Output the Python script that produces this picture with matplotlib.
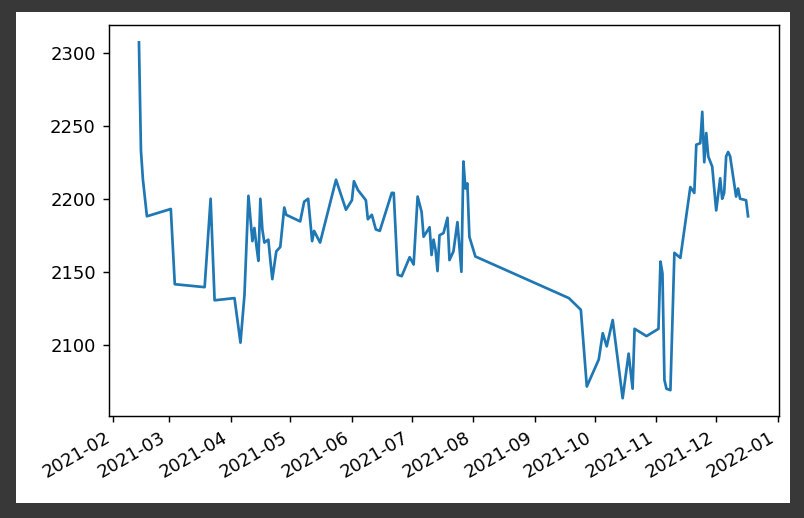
#!/usr/bin/env python3
"""
Daily price line, Feb-Dec 2021 (screenshot style with dark frame)
"""

import matplotlib
matplotlib.use('Agg')
import matplotlib.pyplot as plt
import matplotlib.dates as mdates
import pandas as pd

# values
dates = [
    '2021-02-14', '2021-02-15', '2021-02-16', '2021-02-18', '2021-03-02', '2021-03-04',
    '2021-03-19', '2021-03-22', '2021-03-24', '2021-04-03', '2021-04-06', '2021-04-08',
    '2021-04-10', '2021-04-12', '2021-04-13', '2021-04-14', '2021-04-15', '2021-04-16',
    '2021-04-17', '2021-04-18', '2021-04-20', '2021-04-21', '2021-04-22', '2021-04-24',
    '2021-04-26', '2021-04-28', '2021-04-29', '2021-05-06', '2021-05-08', '2021-05-10',
    '2021-05-12', '2021-05-13', '2021-05-16', '2021-05-24', '2021-05-29', '2021-06-01',
    '2021-06-02', '2021-06-04', '2021-06-08', '2021-06-09', '2021-06-11', '2021-06-13',
    '2021-06-15', '2021-06-21', '2021-06-22', '2021-06-24', '2021-06-26', '2021-06-30',
    '2021-07-02', '2021-07-04', '2021-07-06', '2021-07-07', '2021-07-10', '2021-07-11',
    '2021-07-12', '2021-07-13', '2021-07-14', '2021-07-15', '2021-07-17', '2021-07-19',
    '2021-07-20', '2021-07-22', '2021-07-24', '2021-07-26', '2021-07-27', '2021-07-28',
    '2021-07-29', '2021-07-30', '2021-08-02', '2021-09-18', '2021-09-24', '2021-09-27',
    '2021-10-03', '2021-10-05', '2021-10-07', '2021-10-10', '2021-10-15', '2021-10-18',
    '2021-10-20', '2021-10-21', '2021-10-27', '2021-11-02', '2021-11-03', '2021-11-04',
    '2021-11-05', '2021-11-06', '2021-11-08', '2021-11-10', '2021-11-13', '2021-11-18',
    '2021-11-20', '2021-11-21', '2021-11-23', '2021-11-24', '2021-11-25', '2021-11-26',
    '2021-11-27', '2021-11-29', '2021-12-01', '2021-12-03', '2021-12-04', '2021-12-05',
    '2021-12-06', '2021-12-07', '2021-12-08', '2021-12-11', '2021-12-12', '2021-12-13',
    '2021-12-16', '2021-12-17',
]
prices = [
    2307, 2233, 2213, 2188, 2193, 2141.5,
    2139.5, 2200, 2130.5, 2132, 2101.5, 2134,
    2202, 2171, 2180, 2168, 2157.5, 2200,
    2179, 2170, 2172, 2158, 2145, 2164,
    2167, 2194, 2189, 2184.5, 2198, 2200,
    2171, 2178, 2170, 2213, 2192.5, 2199,
    2212, 2206, 2199, 2186, 2189, 2179,
    2178, 2204, 2204, 2148, 2147, 2160,
    2155, 2201.5, 2191, 2174, 2180.5, 2161.5,
    2172, 2165, 2150.5, 2175, 2176.5, 2187,
    2158, 2164, 2184, 2150, 2225.5, 2207,
    2210.5, 2174, 2160.5, 2132, 2124, 2071.5,
    2090, 2108, 2099, 2117, 2063.5, 2094,
    2070, 2111, 2106, 2111, 2157, 2149,
    2076, 2070, 2069, 2163, 2159.5, 2208,
    2204, 2237, 2238, 2259.5, 2225, 2245,
    2229, 2222, 2192, 2214, 2200, 2204,
    2229, 2232, 2229, 2201.5, 2207, 2200,
    2199, 2188,
]

W, H = 804, 518
DPI = 130

fig = plt.figure(figsize=(W / DPI, H / DPI), dpi=DPI)
fig.patch.set_facecolor('#383838')

# white "notebook output" area inside the dark frame
fig.add_artist(plt.Rectangle((16 / W, 1 - 503 / H), (790 - 16) / W, (503 - 12) / H,
                             transform=fig.transFigure, facecolor='white',
                             edgecolor='none', zorder=0))

ax = fig.add_axes([108.5 / W, 1 - 416 / H, (778.5 - 108.5) / W, (416 - 24.6) / H])

x = pd.to_datetime(dates)
ax.plot(x, prices, color='#1f77b4', linewidth=1.5)

ax.set_yticks([2100, 2150, 2200, 2250, 2300])
ax.xaxis.set_major_locator(mdates.MonthLocator())
ax.xaxis.set_major_formatter(mdates.DateFormatter('%Y-%m'))
for lbl in ax.get_xticklabels():
    lbl.set_rotation(30)
    lbl.set_ha('right')

fig.savefig('out.png', dpi=DPI, facecolor=fig.get_facecolor())
